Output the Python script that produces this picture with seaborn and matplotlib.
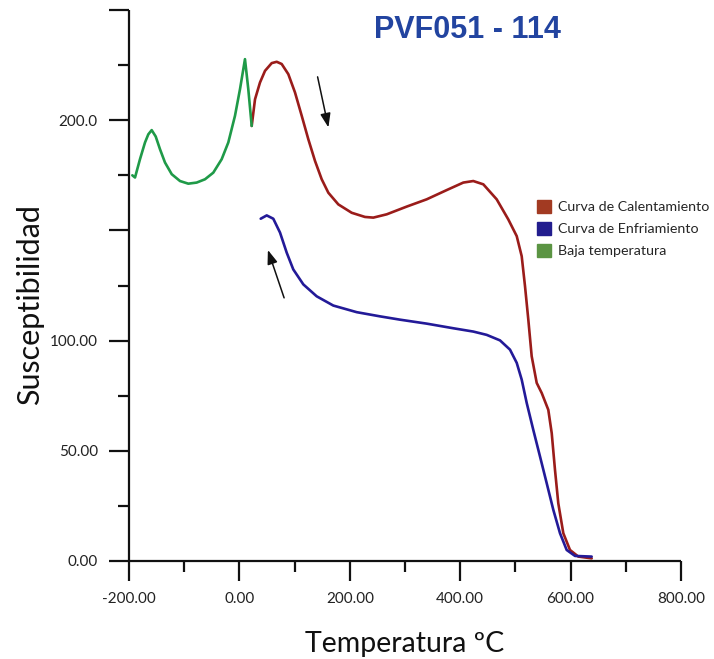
import numpy as np
import pandas as pd
import matplotlib
matplotlib.use("Agg")
import matplotlib.pyplot as plt
from matplotlib.patches import Patch
from matplotlib.ticker import FixedLocator, FixedFormatter
import seaborn as sns

# Low-temperature segment (Baja temperatura)
low_temp = [-194.0, -189.1, -180.1, -171.0, -165.0, -158.9, -151.6, -143.8,
            -134.8, -122.6, -107.6, -92.6, -77.4, -62.3, -47.3, -32.1, -20.1,
            -8.0, 1.1, 10.1, 16.1, 22.3]
low_susc = [175.0, 174.0, 182.3, 189.9, 193.6, 195.5, 192.6, 186.8,
            180.8, 175.5, 172.4, 171.2, 171.7, 173.2, 176.2, 182.3, 189.9,
            202.0, 214.1, 227.7, 214.1, 197.4]

# Heating curve (Curva de Calentamiento)
heat_temp = [22.3, 28.3, 37.3, 46.4, 58.5, 67.6, 76.6, 88.6, 100.7, 112.9,
             124.8, 137.0, 149.1, 161.1, 179.2, 203.4, 227.5, 242.6, 266.9,
             303.1, 339.3, 375.6, 405.6, 423.7, 441.9, 466.1, 487.1, 502.4,
             511.4, 517.4, 523.4, 529.5, 538.6, 547.7, 559.6, 565.8, 571.7,
             577.7, 586.8, 598.9, 614.0, 638.2]
heat_susc = [197.4, 209.5, 217.1, 222.4, 225.9, 226.5, 225.5, 220.9, 212.6, 202.0,
             191.4, 181.5, 173.2, 167.1, 161.8, 158.0, 156.1, 155.8, 157.3,
             160.8, 164.1, 168.3, 171.7, 172.4, 170.9, 164.1, 155.0, 147.4,
             138.3, 124.7, 109.5, 92.9, 80.8, 76.2, 68.6, 58.0, 41.4,
             26.2, 12.6, 5.0, 2.0, 1.2]

# Cooling curve (Curva de Enfriamiento)
cool_temp = [38.6, 49.5, 61.4, 73.6, 85.7, 97.6, 115.8, 140.0, 170.1, 212.5,
             254.7, 290.9, 339.3, 387.5, 423.7, 448.0, 472.1, 490.2, 502.4,
             511.4, 520.5, 532.4, 544.6, 556.7, 568.7, 580.8, 592.9, 608.0, 638.2]
cool_susc = [155.3, 156.8, 155.3, 149.0, 139.9, 132.3, 125.5, 120.1, 115.9, 112.9,
             111.0, 109.5, 107.7, 105.6, 104.1, 102.6, 100.1, 95.9, 89.9,
             82.3, 71.7, 59.5, 47.4, 35.3, 23.2, 12.6, 5.0, 2.3, 2.0]

series_names = ["Curva de Calentamiento", "Curva de Enfriamiento", "Baja temperatura"]
line_colors = ["#9a1c1a", "#231a98", "#1f9a48"]
legend_colors = ["#a23a22", "#221d8e", "#5b9443"]

x_ticks = [-200, 0, 200, 400, 600, 800]
x_tick_labels = ["-200.00", "0.00", "200.00", "400.00", "600.00", "800.00"]
y_ticks = [0, 50, 100, 150, 200, 250]
y_tick_labels = ["0.00", "50.00", "100.00", "", "200.0", ""]

df = pd.concat([
    pd.DataFrame({"T": heat_temp, "K": heat_susc, "serie": series_names[0]}),
    pd.DataFrame({"T": cool_temp, "K": cool_susc, "serie": series_names[1]}),
    pd.DataFrame({"T": low_temp, "K": low_susc, "serie": series_names[2]}),
])

sns.set_style("ticks")
plt.rcParams["font.family"] = ["Lato", "DejaVu Sans"]
plt.rcParams["lines.solid_joinstyle"] = "round"
plt.rcParams["lines.solid_capstyle"] = "round"

fig = plt.figure(figsize=(7.14, 6.59), dpi=100)
ax = fig.add_axes([129 / 714, 1 - 561 / 659, (681 - 129) / 714, (561 - 10) / 659])

sns.lineplot(data=df, x="T", y="K", hue="serie", palette=dict(zip(series_names, line_colors)),
             hue_order=series_names, sort=False, estimator=None, linewidth=1.9,
             legend=False, ax=ax)

ax.set_xlim(-200, 800)
ax.set_ylim(0, 250)
ax.xaxis.set_major_locator(FixedLocator(x_ticks))
ax.xaxis.set_major_formatter(FixedFormatter(x_tick_labels))
ax.xaxis.set_minor_locator(FixedLocator([-100, 100, 300, 500, 700]))
ax.yaxis.set_major_locator(FixedLocator(y_ticks))
ax.yaxis.set_major_formatter(FixedFormatter(y_tick_labels))
ax.yaxis.set_minor_locator(FixedLocator([25, 75, 125, 175, 225]))

for s in ["top", "right"]:
    ax.spines[s].set_visible(False)
for s in ["left", "bottom"]:
    ax.spines[s].set_linewidth(1.6)
    ax.spines[s].set_color("#111111")
    ax.spines[s].set_capstyle("butt")

ax.tick_params(which="major", direction="out", length=14.5, width=1.6, color="#111111",
               labelsize=11, labelcolor="#222222", pad=8)
ax.tick_params(which="minor", direction="out", length=8, width=1.6, color="#111111")

ax.set_xlabel("Temperatura ºC", fontsize=20.5, color="#111111", labelpad=18)
ax.set_ylabel("Susceptibilidad", fontsize=22, color="#111111")
ax.yaxis.set_label_coords(-0.154, 0.465)

# Direction arrows for heating and cooling
ax.annotate("", xy=(162.3, 195.5), xytext=(140.6, 220.9),
            arrowprops=dict(arrowstyle="-|>,head_length=0.6,head_width=0.22",
                            color="#111111", lw=1.1, mutation_scale=14))
ax.annotate("", xy=(50.0, 142.3), xytext=(82.6, 118.2),
            arrowprops=dict(arrowstyle="-|>,head_length=0.6,head_width=0.22",
                            color="#111111", lw=1.1, mutation_scale=14))

fig.text(467 / 714, 1 - 30 / 659, "PVF051 - 114", ha="center", va="center",
         fontsize=22, fontweight="bold", color="#2244a0", family="Liberation Sans")

handles = [Patch(facecolor=c, edgecolor=c) for c in legend_colors]
fig.legend(handles, series_names, loc="upper left", bbox_to_anchor=(537 / 714, 1 - 200 / 659),
           frameon=False, fontsize=10.3, handlelength=1.0, handleheight=1.0,
           handletextpad=0.45, labelspacing=0.6, borderaxespad=0, borderpad=0)

fig.savefig("out.png", dpi=100)
